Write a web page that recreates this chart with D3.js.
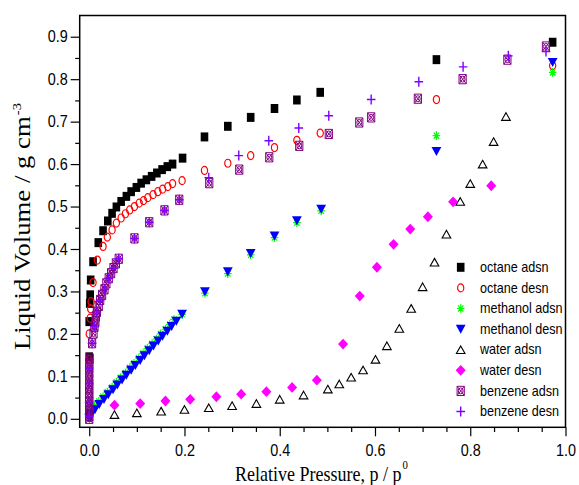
<!DOCTYPE html>
<html>
<head>
<meta charset="utf-8">
<script src="https://cdn.jsdelivr.net/npm/d3@7"></script>
<style>
  body { margin: 0; background: #fff; }
  svg { display: block; }
</style>
</head>
<body>
<svg id="chart" width="579" height="485"></svg>
<script>
// Isotherm readings: [relative pressure p/p0, liquid volume g cm^-3]
const octaneAdsn = [
  [0.000,0.012],[0.000,0.146],[0.000,0.229],[0.001,0.272],[0.002,0.292],[0.003,0.327],
  [0.008,0.370],[0.019,0.415],[0.029,0.443],[0.039,0.466],[0.048,0.484],[0.057,0.499],
  [0.067,0.512],[0.078,0.524],[0.088,0.535],[0.099,0.545],[0.109,0.555],[0.120,0.563],
  [0.131,0.571],[0.142,0.579],[0.153,0.587],[0.164,0.594],[0.175,0.600],[0.196,0.614],
  [0.242,0.664],[0.291,0.689],[0.339,0.710],[0.389,0.731],[0.436,0.751],[0.485,0.769],
  [0.729,0.846],[0.973,0.887]
];
const octaneDesn = [
  [0.000,0.140],[0.000,0.200],[0.002,0.237],[0.003,0.259],[0.004,0.276],[0.008,0.321],
  [0.017,0.374],[0.029,0.406],[0.038,0.428],[0.048,0.445],[0.057,0.461],[0.067,0.473],
  [0.076,0.483],[0.085,0.492],[0.095,0.500],[0.105,0.508],[0.114,0.514],[0.123,0.521],
  [0.134,0.528],[0.144,0.535],[0.154,0.541],[0.165,0.547],[0.175,0.554],[0.195,0.561],
  [0.242,0.585],[0.291,0.602],[0.339,0.620],[0.389,0.639],[0.436,0.656],[0.485,0.673],
  [0.729,0.752],[0.973,0.832]
];
const methanolAdsn = [
  [0.000,0.030],[0.011,0.031],[0.020,0.041],[0.029,0.052],[0.038,0.063],[0.048,0.074],
  [0.057,0.086],[0.066,0.097],[0.076,0.108],[0.085,0.120],[0.094,0.131],[0.104,0.143],
  [0.113,0.154],[0.122,0.166],[0.132,0.177],[0.141,0.188],[0.150,0.200],[0.160,0.211],
  [0.169,0.222],[0.178,0.234],[0.195,0.246],
  [0.243,0.296],[0.291,0.342],[0.339,0.386],[0.389,0.427],[0.436,0.462],[0.487,0.490],
  [0.729,0.667],[0.973,0.816]
];
const methanolDesn = [
  [0.000,0.002],[0.004,0.010],[0.012,0.022],[0.021,0.034],[0.031,0.046],[0.040,0.057],
  [0.050,0.069],[0.059,0.080],[0.069,0.092],[0.078,0.103],[0.088,0.115],[0.097,0.126],
  [0.107,0.138],[0.116,0.149],[0.126,0.161],[0.135,0.172],[0.145,0.184],[0.154,0.195],
  [0.164,0.207],[0.173,0.218],[0.183,0.230],[0.195,0.247],
  [0.243,0.300],[0.291,0.347],[0.339,0.390],[0.389,0.431],[0.436,0.467],[0.487,0.494],
  [0.729,0.630],[0.973,0.840]
];
const waterAdsn = [
  [0.053,0.010],[0.100,0.014],[0.151,0.018],[0.200,0.022],[0.251,0.026],[0.300,0.031],
  [0.351,0.036],[0.400,0.046],[0.450,0.056],[0.501,0.070],[0.525,0.082],[0.550,0.098],
  [0.575,0.115],[0.601,0.140],[0.625,0.172],[0.651,0.213],[0.676,0.260],[0.700,0.311],
  [0.725,0.369],[0.750,0.435],[0.779,0.512],[0.800,0.554],[0.826,0.600],[0.849,0.653],
  [0.875,0.712]
];
const waterDesn = [
  [0.053,0.032],[0.107,0.036],[0.160,0.042],[0.212,0.046],[0.267,0.052],[0.319,0.058],
  [0.372,0.064],[0.426,0.074],[0.478,0.091],[0.533,0.176],[0.568,0.289],[0.604,0.357],
  [0.639,0.411],[0.674,0.447],[0.711,0.476],[0.764,0.511],[0.844,0.549]
];
const benzeneAdsn = [
  [0.000,0.000],[0.000,0.006],[0.000,0.017],[0.000,0.028],[0.000,0.040],[0.000,0.050],
  [0.000,0.060],[0.000,0.072],[0.000,0.083],[0.000,0.095],[0.000,0.107],[0.000,0.119],
  [0.000,0.131],[0.001,0.142],[0.006,0.178],[0.009,0.201],[0.011,0.217],[0.013,0.229],
  [0.014,0.241],[0.016,0.252],[0.020,0.266],[0.023,0.280],[0.027,0.292],[0.032,0.305],
  [0.036,0.319],[0.041,0.331],[0.046,0.343],[0.051,0.355],[0.056,0.366],[0.062,0.377],
  [0.095,0.425],[0.126,0.463],[0.158,0.491],[0.189,0.516],[0.252,0.555],[0.315,0.587],
  [0.378,0.616],[0.441,0.643],[0.503,0.671],[0.567,0.698],[0.592,0.710],[0.690,0.754],
  [0.784,0.800],[0.878,0.846],[0.959,0.877]
];
const benzeneDesn = [
  [0.000,0.006],[0.000,0.040],[0.000,0.083],[0.000,0.119],[0.006,0.178],[0.011,0.217],
  [0.016,0.252],[0.023,0.280],[0.032,0.305],[0.041,0.331],[0.051,0.355],[0.062,0.377],
  [0.095,0.425],[0.126,0.463],[0.158,0.491],[0.189,0.516],[0.251,0.568],[0.314,0.620],
  [0.377,0.655],[0.440,0.685],[0.503,0.714],[0.592,0.752],[0.692,0.794],[0.785,0.829],
  [0.880,0.855],[0.959,0.865]
];

const seriesNames = ["octane adsn","octane desn","methanol adsn","methanol desn",
                     "water adsn","water desn","benzene adsn","benzene desn"];
const seriesData = [octaneAdsn, octaneDesn, methanolAdsn, methanolDesn,
                    waterAdsn, waterDesn, benzeneAdsn, benzeneDesn];

const xTickValues = [0.0, 0.2, 0.4, 0.6, 0.8, 1.0];
const xTickLabels = ["0.0", "0.2", "0.4", "0.6", "0.8", "1.0"];
const yTickValues = [0.0, 0.1, 0.2, 0.3, 0.4, 0.5, 0.6, 0.7, 0.8, 0.9];
const yTickLabels = ["0.0","0.1","0.2","0.3","0.4","0.5","0.6","0.7","0.8","0.9"];
const xTitle = "Relative Pressure, p / p";
const xTitleSup = "0";
const yTitle = "Liquid Volume / g cm";
const yTitleSup = "-3";

// ---- marker shapes (local coords, centred on the point) ----
function rectPath(w, h) {
  return `M${-w/2},${-h/2}H${w/2}V${h/2}H${-w/2}Z`;
}
function ellipsePath(rx, ry) {
  return `M${-rx},0a${rx},${ry} 0 1,0 ${2*rx},0a${rx},${ry} 0 1,0 ${-2*rx},0Z`;
}
const shapes = {
  square:   () => rectPath(7.6, 9),
  circle:   () => ellipsePath(3.1, 4.0),
  asterisk: () => { const a = 3.8, b = 4.3, c = 2.7, d = 3.1;
    return `M${-a},0H${a}M0,${-b}V${b}M${-c},${-d}L${c},${d}M${-c},${d}L${c},${-d}`; },
  triDown:  () => `M-4.9,-4.3H4.9L0,4.7Z`,
  triUp:    () => `M0,-3.8L4.3,3.8H-4.3Z`,
  diamond:  () => `M0,-5.4L5,0L0,5.4L-5,0Z`,
  crossSq:  () => rectPath(7.2, 9.2) + `M-3.6,-4.6L3.6,4.6M-3.6,4.6L3.6,-4.6` + ellipsePath(2.4, 3.0),
  plus:     () => `M-4.3,0H4.3M0,-5V5`
};
const styles = [
  { shape: "square",   fill: "#000000", stroke: "none",    sw: 0 },
  { shape: "circle",   fill: "none",    stroke: "#FF0000", sw: 1.2 },
  { shape: "asterisk", fill: "none",    stroke: "#00FF00", sw: 1.2 },
  { shape: "triDown",  fill: "#0000FF", stroke: "none",    sw: 0 },
  { shape: "triUp",    fill: "none",    stroke: "#000000", sw: 1.1 },
  { shape: "diamond",  fill: "#FF00FF", stroke: "none",    sw: 0 },
  { shape: "crossSq",  fill: "none",    stroke: "#800080", sw: 1.0 },
  { shape: "plus",     fill: "none",    stroke: "#8000FF", sw: 1.4 }
];

// ---- layout ----
const svg = d3.select("#chart");
const plotLeft = 79.7, plotRight = 565.5, plotTop = 15.5, plotBottom = 427.3;
const x = d3.scaleLinear().domain([-0.02, 1.0]).range([plotLeft, plotRight]);
const y = d3.scaleLinear().domain([-0.02, 0.95]).range([plotBottom, plotTop]);

const xMinor = d3.range(0.05, 1.0001, 0.05).filter(v => Math.abs(v * 5 - Math.round(v * 5)) > 1e-6);
const yMinor = d3.range(0.05, 0.9001, 0.1);

// minor ticks
svg.append("g").attr("transform", `translate(0,${plotBottom})`)
  .call(d3.axisBottom(x).tickValues(xMinor).tickSize(4.7).tickSizeOuter(0).tickFormat(""))
  .call(g => g.select(".domain").remove());
svg.append("g").attr("transform", `translate(${plotLeft},0)`)
  .call(d3.axisLeft(y).tickValues(yMinor).tickSize(4.5).tickSizeOuter(0).tickFormat(""))
  .call(g => g.select(".domain").remove());

// major ticks with labels
const gx = svg.append("g").attr("transform", `translate(0,${plotBottom})`)
  .call(d3.axisBottom(x).tickValues(xTickValues).tickSize(9).tickPadding(8).tickSizeOuter(0)
        .tickFormat((d, i) => xTickLabels[i]))
  .call(g => g.select(".domain").remove());
const gy = svg.append("g").attr("transform", `translate(${plotLeft},0)`)
  .call(d3.axisLeft(y).tickValues(yTickValues).tickSize(9).tickPadding(3.5).tickSizeOuter(0)
        .tickFormat((d, i) => yTickLabels[i]))
  .call(g => g.select(".domain").remove());

svg.selectAll(".tick line").attr("stroke", "#000").attr("stroke-width", 1.2);
[gx, gy].forEach(g => g.selectAll("text")
  .attr("font-family", "'Liberation Sans', Arial, sans-serif")
  .attr("font-size", 16)
  .attr("fill", "#000")
  .attr("transform", "scale(0.9,1)"));
gy.selectAll("text").attr("x", -13.2);

// frame
svg.append("rect")
  .attr("x", plotLeft).attr("y", plotTop)
  .attr("width", plotRight - plotLeft).attr("height", plotBottom - plotTop)
  .attr("fill", "none").attr("stroke", "#000").attr("stroke-width", 1.5);

// data markers
const plot = svg.append("g");
seriesData.forEach((data, i) => {
  const st = styles[i];
  plot.append("g").selectAll("path").data(data).join("path")
    .attr("d", shapes[st.shape]())
    .attr("transform", d => `translate(${x(d[0])},${y(d[1])})`)
    .attr("fill", st.fill)
    .attr("stroke", st.stroke)
    .attr("stroke-width", st.sw);
});

// legend
const legend = svg.append("g");
const legX = 460.7, legY0 = 267.3, legStep = 20.6;
seriesNames.forEach((name, i) => {
  const st = styles[i];
  const row = legend.append("g").attr("transform", `translate(${legX},${legY0 + i * legStep})`);
  row.append("path").attr("d", shapes[st.shape]())
    .attr("fill", st.fill).attr("stroke", st.stroke).attr("stroke-width", st.sw);
  row.append("text")
    .attr("transform", "translate(19.3,4.6) scale(0.9,1)")
    .attr("font-family", "'Liberation Sans', Arial, sans-serif")
    .attr("font-size", 14).attr("fill", "#000")
    .text(name);
});

// axis titles, fitted to their drawn length
const xt = svg.append("text")
  .attr("font-family", "'Liberation Serif', 'Times New Roman', serif")
  .attr("font-size", 20).attr("fill", "#000");
xt.append("tspan").text(xTitle);
xt.append("tspan").attr("dy", -12).attr("dx", 1).attr("font-size", 12).text(xTitleSup);
const xtw = xt.node().getBBox().width;
xt.attr("transform", `translate(235,480.5) scale(${173 / xtw},1)`);

const yt = svg.append("text")
  .attr("font-family", "'Liberation Serif', 'Times New Roman', serif")
  .attr("font-size", 24).attr("fill", "#000");
yt.append("tspan").text(yTitle);
yt.append("tspan").attr("dy", -9).attr("dx", 1).attr("font-size", 13).text(yTitleSup);
const ytw = yt.node().getBBox().width;
yt.attr("transform", `translate(29.8,350) rotate(-90) scale(${247 / ytw},1)`);
</script>
</body>
</html>
